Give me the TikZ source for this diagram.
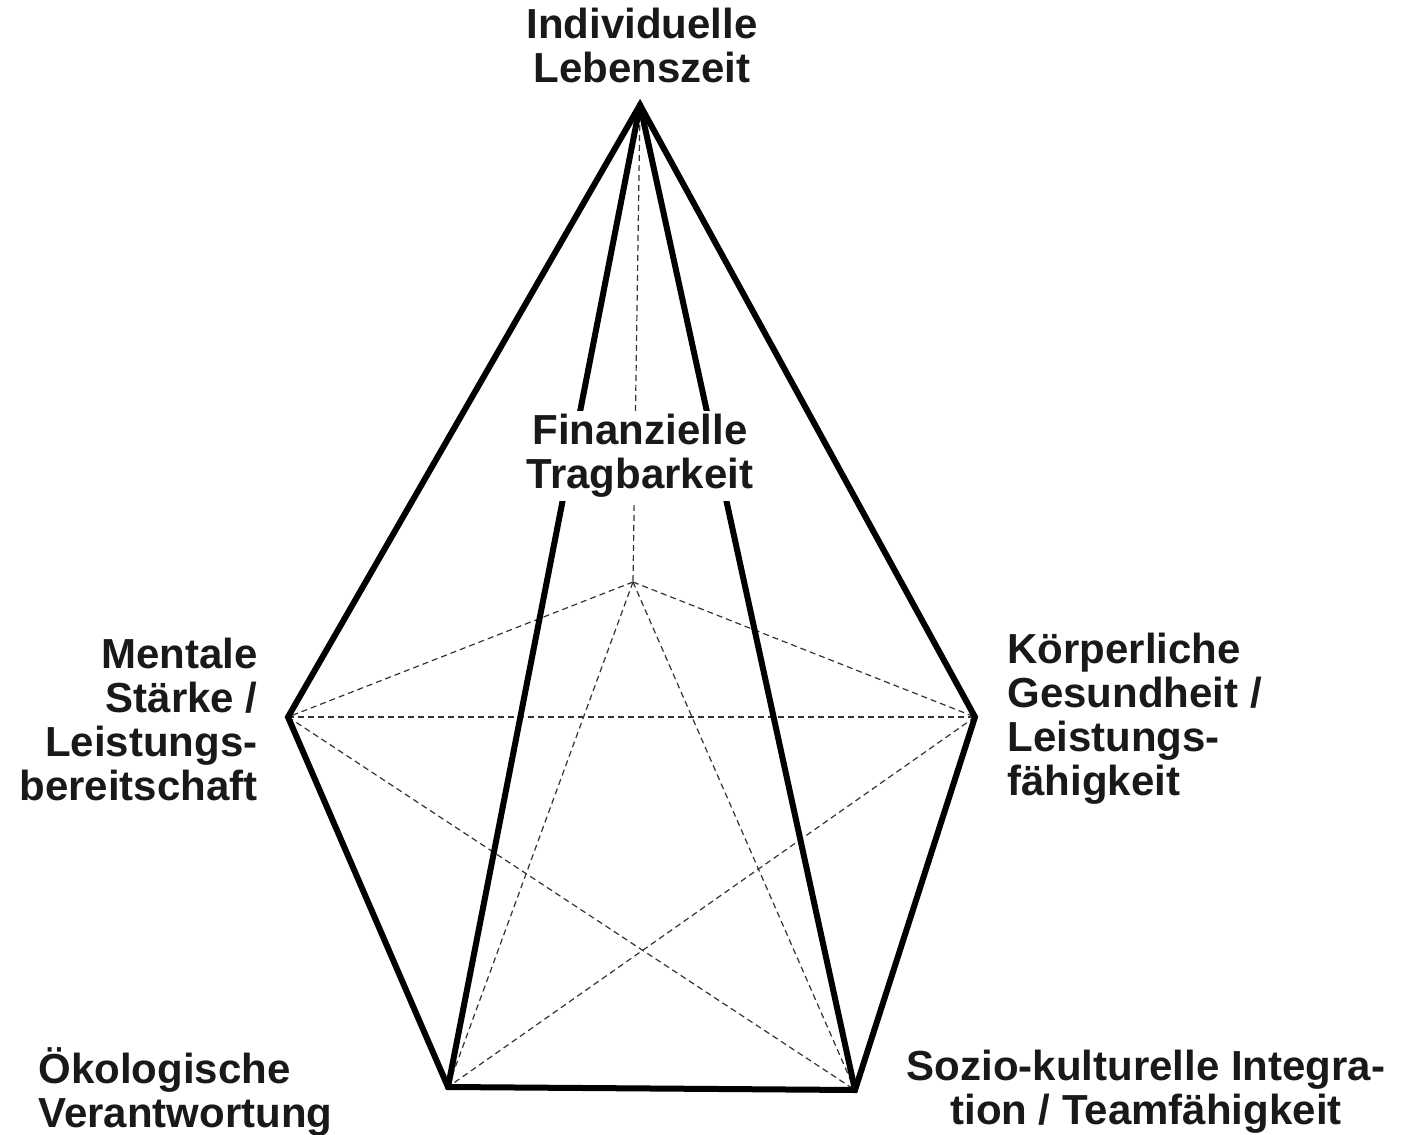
\documentclass[tikz,border=0pt]{standalone}
\usepackage{fontspec}
\setmainfont{Liberation Sans}
\begin{document}
\begin{tikzpicture}[x=0.5pt,y=-0.5pt,
  thickedge/.style={line width=3pt,line join=miter,line cap=round},
  hidden/.style={line width=0.6pt,dash pattern=on 3pt off 2pt,black!80},
  lbl/.style={font=\fontsize{21}{22}\selectfont\bfseries,inner sep=0pt,text=black!90}]
\useasboundingbox (0,0) rectangle (1404,1135);
\coordinate (A) at (640,105);
\coordinate (C) at (633,582);
\coordinate (L) at (288,717);
\coordinate (R) at (975,717);
\coordinate (BL) at (448,1087);
\coordinate (BR) at (855,1090);
% hidden edges
\draw[hidden] (A) -- (C);
\draw[hidden] (C) -- (L);
\draw[hidden] (C) -- (R);
\draw[hidden] (C) -- (BL);
\draw[hidden] (C) -- (BR);
\draw[hidden] (L) -- (R);
\draw[hidden] (L) -- (BR);
\draw[hidden] (R) -- (BL);
% visible edges
\draw[thickedge] (A) -- (L) -- (BL) -- (BR) -- (R) -- cycle;
\draw[thickedge] (A) -- (BL);
\draw[thickedge] (A) -- (BR);
% labels
\node[lbl,align=center] (top) at (642,45) {Individuelle\\Lebenszeit};
\node[lbl,align=center,fill=white,inner xsep=3pt,inner ysep=1.5pt] (fin) at (640,456) {Finanzielle\\Tragbarkeit};
\node[lbl,align=right,anchor=east] (ment) at (258,719) {Mentale\\Stärke /\\Leistungs-\\bereitschaft};
\node[lbl,align=left,anchor=west] (koer) at (1007,719) {Körperliche\\Gesundheit /\\Leistungs-\\fähigkeit};
\node[lbl,align=left,anchor=west] (oeko) at (38,1092) {Ökologische\\Verantwortung};
\node[lbl,align=center] (sozio) at (1146,1092) {Sozio-kulturelle Integra-\\tion / Teamfähigkeit};
\end{tikzpicture}
\end{document}
